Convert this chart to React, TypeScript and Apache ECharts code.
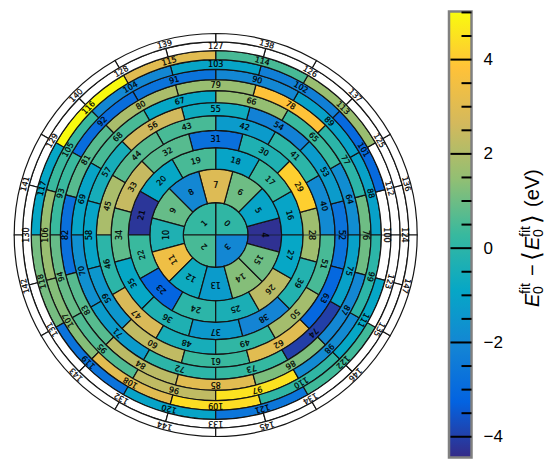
import React, { useEffect, useRef } from "react";
import * as echarts from "echarts";

const PARULA = ["#352a87", "#0363e1", "#1485d4", "#06a7c6", "#38b99e", "#92bf73", "#d4b95c", "#ffc238", "#f9fb0e"];
const VALUE_MIN = -4.44;
const VALUE_MAX = 5.02;

const ringEdges = [0, 32.4, 65.9, 87.4, 104.6, 119.3, 132.4, 144.3, 155.3, 165.6, 175.3, 184.4, 193.1, 201.5];

const N = null;
const core = [0.1, 0.2, 0.5, -2.0];
const ring1 = [-4.3, -1.0, 1.0, 2.9, -2.0, 0.9, -0.3, 3.4, -0.7, -1.3, 1.3, 1.0];
const ring2 = [-1.0, 0.3, -1.0, 0.5, -0.9, -4.2, 0.3, -3.2, 0.0, -0.4, 2.2, -0.9];
const ring3 = [1.7, 4.1, -0.3, -2.8, 0.7, 2.4, 0.8, -0.9, -0.3, -1.4, -2.1, -0.2];
const ring4 = [-1.9, 0.0, -1.3, 0.5, 0.7, 1.9, 0.0, 2.8, -0.5, 0.1, 1.8, 0.5];
const ring5 = [-2.7, -1.3, -2.2, -0.7, 2.6, -0.5, -1.0, -1.5, 2.3, 0.3, 3.0, -3.1];
const ring6 = [-1.8, 0.3, 1.5, -0.9, 0.5, -1.0, -1.7, -1.3, 0.0, 0.2, -4.0, -1.1];
const ring7 = [1.0, 0.0, 3.8, 1.6, 1.9, 0.7, -2.8, 0.7, 2.2, 3.0, 1.2, -2.0];
const ring8 = [-1.1, -1.1, -2.0, -2.7, -2.9, 0.3, 0.9, 0.6, 2.3, 4.5, -1.9, 0.0];
const ring9 = [N, -3.0, -2.3, -1.0, -2.0, 0.3, 1.6, 1.3, 3.0, 4.4, 0.1, -0.9];
const ring10 = [N, 1.6, 0.5, 3.0, 5.0, -0.9, 1.1, -2.7, -1.0, -2.6, 0.4, N];
const ring11 = [N, N, N, N, N, N, N, N, N, N, N, N];
const ring12 = [N, N, N, N, N, N, N, N, N, N, N, N];
const rings = [ring1, ring2, ring3, ring4, ring5, ring6, ring7, ring8, ring9, ring10, ring11, ring12];

const majorTicks = [-4, -2, 0, 2, 4];
const minorTicks = [-3.5, -3, -2.5, -1.5, -1, -0.5, 0.5, 1, 1.5, 2.5, 3, 3.5, 4.5, 5];

type Cell = [number, number, number | null, number, number, number, number];

function buildCells(): Cell[] {
  const cells: Cell[] = [];
  core.forEach((v, k) => {
    cells.push([ringEdges[1] / 2, 45 + 90 * k, v, k, 0, 1, 45]);
  });
  let id = core.length;
  rings.forEach((vals, i) => {
    const offset = i % 2 === 0 ? 0 : 15;
    const r = (ringEdges[i + 1] + ringEdges[i + 2]) / 2;
    vals.forEach((v, k) => {
      cells.push([r, offset + 30 * k, v, id, i + 1, i + 2, 15]);
      id += 1;
    });
  });
  return cells;
}

function renderCell(params: any, api: any) {
  const angle = api.value(1) as number;
  const value = api.value(2) as number;
  const id = api.value(3) as number;
  const e0 = ringEdges[api.value(4) as number];
  const e1 = ringEdges[api.value(5) as number];
  const half = api.value(6) as number;
  const midR = api.value(0) as number;
  const c = api.coord([0, 0]);
  const toR = (p: number[]) => Math.hypot(p[0] - c[0], p[1] - c[1]);
  const r0 = e0 === 0 ? 0 : toR(api.coord([e0, angle]));
  const r1 = toR(api.coord([e1, angle]));
  const pos = api.coord([midR, angle]);
  const rad = Math.PI / 180;
  const fill = Number.isNaN(value) ? "#ffffff" : api.visual("color");
  const children: any[] = [
    {
      type: "sector",
      shape: {
        cx: c[0],
        cy: c[1],
        r0,
        r: r1,
        startAngle: -(angle + half) * rad,
        endAngle: -(angle - half) * rad,
        clockwise: true,
      },
      style: { fill, stroke: "#141414", lineWidth: 1.2 },
    },
  ];
  if (angle === 0) {
    const a = api.coord([e0, 0]);
    const b = api.coord([e1, 0]);
    children.push({
      type: "line",
      shape: { x1: a[0], y1: a[1], x2: b[0], y2: b[1] },
      style: { stroke: "rgba(20,30,40,0.75)", lineWidth: 1 },
    });
  }
  children.push({
    type: "text",
    x: pos[0],
    y: pos[1],
    rotation: (angle - 90) * rad,
    z2: 10,
    style: {
      text: String(id),
      fill: "#000000",
      stroke: "#000000",
      lineWidth: 0.2,
      font: '8px "DejaVu Sans"',
      align: "center",
      verticalAlign: "middle",
    },
  });
  return { type: "group", children };
}

function renderBar(params: any, api: any) {
  const top = api.coord([0, VALUE_MAX]);
  const bottom = api.coord([0, VALUE_MIN]);
  const cs = params.coordSys;
  const right = cs.x + cs.width;
  const stops = PARULA.map((_, i) => ({
    offset: i / (PARULA.length - 1),
    color: PARULA[PARULA.length - 1 - i],
  }));
  const tick = (v: number, len: number) => {
    const y = api.coord([0, v])[1];
    return {
      type: "line",
      shape: { x1: right - len, y1: y, x2: right, y2: y },
      style: { stroke: "#000000", lineWidth: 2 },
    };
  };
  return {
    type: "group",
    children: [
      {
        type: "rect",
        shape: { x: cs.x, y: top[1], width: cs.width, height: bottom[1] - top[1] },
        style: {
          fill: new echarts.graphic.LinearGradient(0, 0, 0, 1, stops),
          stroke: "#808080",
          lineWidth: 2.5,
        },
      },
      ...majorTicks.map((v) => tick(v, 21)),
      ...minorTicks.map((v) => tick(v, 10)),
    ],
  };
}

const TITLE_FONT = '"Liberation Sans"';
function titleText(text: string, x: number, y: number, size: number, italic = false, family = TITLE_FONT) {
  return {
    type: "text",
    x,
    y,
    style: {
      text,
      fill: "#000",
      font: `${italic ? "italic " : ""}${size}px ${family}`,
      align: "left",
      verticalAlign: "middle",
    },
  };
}

export default function App() {
  const ref = useRef<HTMLDivElement>(null);
  useEffect(() => {
    const chart = echarts.init(ref.current!, undefined, { renderer: "svg" });
    chart.setOption({
      animation: false,
      backgroundColor: "#ffffff",
      polar: { center: [215.7, 235], radius: 201.5 },
      radiusAxis: { type: "value", min: 0, max: 201.5, show: false },
      angleAxis: { type: "value", min: 0, max: 360, startAngle: 0, clockwise: false, show: false },
      visualMap: {
        show: false,
        type: "continuous",
        seriesIndex: 0,
        dimension: 2,
        min: VALUE_MIN,
        max: VALUE_MAX,
        inRange: { color: PARULA },
      },
      grid: { left: 449, top: 11.5, width: 22.5, height: 446, containLabel: false },
      xAxis: { type: "value", min: 0, max: 1, show: false },
      yAxis: {
        type: "value",
        min: VALUE_MIN,
        max: VALUE_MAX,
        position: "right",
        z: 5,
        axisLine: { show: false },
        splitLine: { show: false },
        axisTick: { show: false },
        axisLabel: {
          show: true,
          customValues: majorTicks,
          margin: 12,
          color: "#000",
          fontSize: 17,
          fontFamily: TITLE_FONT,
          formatter: (v: number) => String(v).replace("-", "\u2212"),
        },
      },
      series: [
        {
          type: "custom",
          coordinateSystem: "polar",
          clip: false,
          silent: true,
          dimensions: ["r", "a", "v", "id", "e0", "e1", "half"],
          encode: { radius: 0, angle: 1 },
          data: buildCells(),
          renderItem: renderCell,
        },
        {
          type: "custom",
          coordinateSystem: "cartesian2d",
          clip: false,
          silent: true,
          data: [[0, 0]],
          renderItem: renderBar,
        },
      ],
      graphic: [
        {
          type: "group",
          x: 531.5,
          y: 307,
          rotation: Math.PI / 2,
          silent: true,
          children: [
            titleText("E", 0, 0, 20, true),
            titleText("0", 13, 6, 14),
            titleText("fit", 13, -7, 14),
            titleText("\u2212", 31, 0, 20),
            titleText("\u27E8", 46, 0, 25, false, '"DejaVu Sans"'),
            titleText("E", 57, 0, 20, true),
            titleText("0", 70, 6, 14),
            titleText("fit", 70, -7, 14),
            titleText("\u27E9", 83, 0, 25, false, '"DejaVu Sans"'),
            titleText("(eV)", 100, 0, 20),
          ],
        },
      ],
    });
    return () => chart.dispose();
  }, []);
  return <div ref={ref} style={{ position: "absolute", left: 0, top: 0, width: 547, height: 459 }} />;
}
